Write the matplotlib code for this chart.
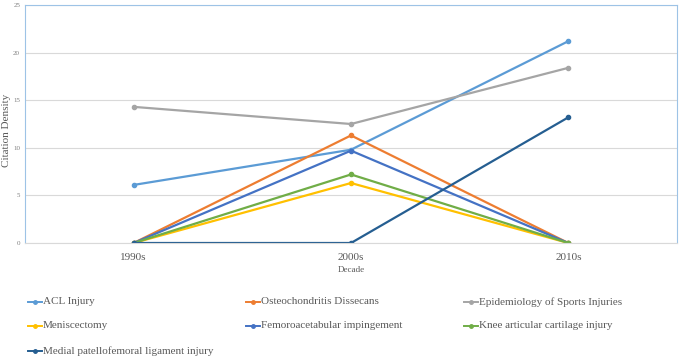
import matplotlib
matplotlib.use("Agg")
import matplotlib.pyplot as plt
from matplotlib.lines import Line2D

decades = ["1990s", "2000s", "2010s"]
series_names = ["ACL Injury", "Osteochondritis Dissecans", "Epidemiology of Sports Injuries",
                "Meniscectomy", "Femoroacetabular impingement", "Knee articular cartilage injury",
                "Medial patellofemoral ligament injury"]
acl = [6.1, 9.8, 21.2]
osteo = [0, 11.3, 0]
epid = [14.3, 12.5, 18.4]
menisc = [0, 6.3, 0]
femoro = [0, 9.7, 0]
knee = [0, 7.2, 0]
medial = [0, 0, 13.2]
values = [acl, osteo, epid, menisc, femoro, knee, medial]
colors = ["#5B9BD5", "#ED7D31", "#A5A5A5", "#FFC000", "#4472C4", "#70AD47", "#255E91"]

plt.rcParams['font.family'] = ['Liberation Serif', 'DejaVu Serif']

fig = plt.figure(figsize=(6.8, 3.6), dpi=100)
ax = fig.add_axes([25/680, 1-243/360, (677-25)/680, (243-5)/360])

xs = [0.5, 1.5, 2.5]
for name, vals, c in zip(series_names, values, colors):
    ax.plot(xs, vals, color=c, lw=1.6, marker='o', ms=3, label=name)

ax.set_xlim(0, 3)
ax.set_ylim(0, 25)
ax.set_yticks([0, 5, 10, 15, 20, 25])
ax.set_xticks(xs)
ax.set_xticklabels(decades, fontsize=8, color="#595959")
ax.tick_params(axis='y', labelsize=5, colors="#7f7f7f", length=0, pad=3.5)
ax.tick_params(axis='x', length=0, pad=7)
ax.grid(axis='y', color="#D9D9D9", lw=0.8)
ax.set_axisbelow(True)
for s in ['left', 'top', 'right']:
    ax.spines[s].set_color("#9DC3E6")
    ax.spines[s].set_linewidth(0.8)
ax.spines['bottom'].set_color("#D9D9D9")
ax.set_xlabel("Decade", fontsize=6.5, color="#595959", labelpad=3)
fig.text(7/680, 1-130/360, "Citation Density", fontsize=8, color="#595959",
         rotation=90, ha='center', va='center')

col_x = [28/680, 246/680, 464/680]
row_y = [1-302/360, 1-326/360, 1-351/360]
for i, (name, c) in enumerate(zip(series_names, colors)):
    r, col = divmod(i, 3)
    x0, y0 = col_x[col], row_y[r]
    fig.add_artist(Line2D([x0, x0 + 14/680], [y0, y0], color=c, lw=1.4,
                          transform=fig.transFigure))
    fig.add_artist(Line2D([x0 + 7/680], [y0], color=c, marker='o', ms=2.5,
                          transform=fig.transFigure))
    fig.text(x0 + 15/680, y0, name, fontsize=8, color="#595959", va='center', ha='left')

fig.savefig("out.png", dpi=100)
